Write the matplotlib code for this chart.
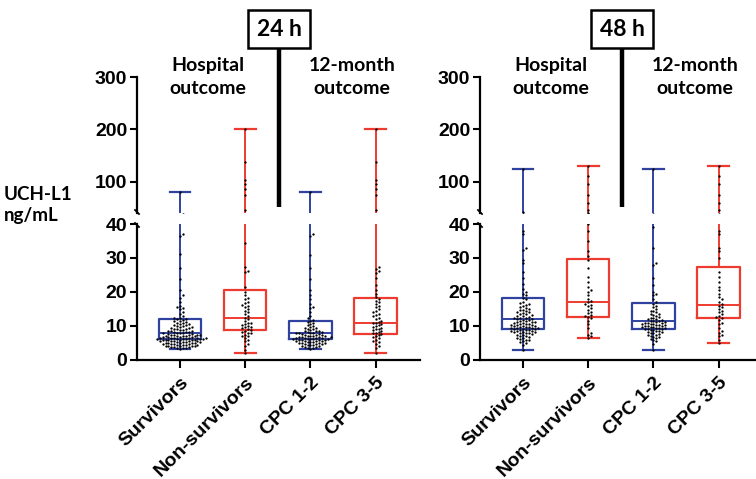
import matplotlib
matplotlib.use("Agg")
import matplotlib.pyplot as plt
import numpy as np
from matplotlib.patches import Rectangle
from matplotlib.lines import Line2D

# ---------------- data ----------------
categories = ["Survivors", "Non-survivors", "CPC 1-2", "CPC 3-5"]
panel_titles = ["24 h", "48 h"]

# box summaries (whisker low, Q1, median, Q3, whisker high), ng/mL
lo_24 = [3.3, 2.1, 3.3, 2.1]
q1_24 = [6.3, 8.8, 6.3, 7.6]
med_24 = [7.8, 12.5, 7.8, 10.8]
q3_24 = [12.0, 20.6, 11.6, 18.3]
hi_24 = [79.6, 200.0, 79.6, 200.0]

lo_48 = [2.9, 6.4, 2.9, 4.9]
q1_48 = [9.2, 12.7, 9.1, 12.4]
med_48 = [12.1, 17.0, 11.5, 16.1]
q3_48 = [18.1, 29.7, 16.8, 27.4]
hi_48 = [124.0, 129.0, 124.0, 129.0]

# individual patient values
surv_24 = [3.3, 3.4, 3.5, 3.6, 3.7, 3.8, 3.9, 4.0, 4.0, 4.1, 4.2, 4.2, 4.3, 4.4, 4.5,
           4.5, 4.6, 4.7, 4.8, 4.8, 4.9, 5.0, 5.0, 5.1, 5.1, 5.2, 5.3, 5.3, 5.4, 5.5,
           5.5, 5.6, 5.6, 5.7, 5.8, 5.8, 5.9, 6.0, 6.0, 6.0, 6.1, 6.1, 6.2, 6.2, 6.3,
           6.3, 6.4, 6.4, 6.5, 6.5, 6.6, 6.6, 6.7, 6.8, 6.8, 6.9, 7.0, 7.0, 7.1, 7.1,
           7.2, 7.3, 7.3, 7.4, 7.5, 7.5, 7.6, 7.7, 7.8, 7.8, 7.9, 8.0, 8.1, 8.2, 8.3,
           8.4, 8.5, 8.6, 8.8, 8.9, 9.0, 9.1, 9.2, 9.4, 9.5, 9.6, 9.8, 9.9, 10.0, 10.2,
           10.3, 10.5, 10.7, 10.8, 11.0, 11.2, 11.4, 11.6, 11.8, 12.0, 12.1, 12.3,
           12.5, 13.0, 13.5, 14.2, 15.0, 15.3, 15.5, 16.0, 17.0, 18.2, 19.0, 20.5,
           23.8, 27.0, 31.2, 36.6, 37.2, 79.6]
nonsurv_24 = [2.1, 3.0, 4.2, 4.8, 5.5, 6.0, 6.5, 7.0, 7.2, 7.5, 7.8, 8.0, 8.3, 8.6, 8.8,
              9.0, 9.3, 9.6, 9.8, 10.0, 10.2, 10.5, 10.8, 11.0, 11.5, 12.0, 12.5, 13.0,
              13.5, 14.0, 14.5, 15.0, 15.5, 16.0, 16.2, 16.8, 17.2, 17.8, 18.3, 19.0,
              20.0, 21.5, 25.8, 26.2, 27.4, 34.3, 45.0, 75.0, 85.0, 95.0, 103.0, 137.0,
              200.0]
cpc12_24 = [3.3, 3.4, 3.6, 3.8, 3.9, 4.0, 4.1, 4.3, 4.4, 4.5, 4.6, 4.7, 4.8, 4.9, 5.0,
            5.0, 5.1, 5.2, 5.3, 5.4, 5.5, 5.5, 5.6, 5.7, 5.8, 5.9, 6.0, 6.0, 6.1, 6.1,
            6.2, 6.3, 6.3, 6.4, 6.5, 6.5, 6.6, 6.7, 6.8, 6.8, 6.9, 7.0, 7.0, 7.1, 7.2,
            7.3, 7.4, 7.5, 7.6, 7.7, 7.8, 7.8, 7.9, 8.0, 8.1, 8.2, 8.4, 8.5, 8.6, 8.8,
            9.0, 9.2, 9.4, 9.5, 9.7, 10.0, 10.3, 10.6, 10.9, 11.2, 11.5, 11.8, 12.3,
            13.0, 14.0, 15.2, 15.5, 16.5, 18.0, 19.0, 20.5, 23.8, 27.0, 31.0, 36.5,
            37.0, 79.6]
cpc35_24 = [2.1, 3.5, 4.2, 4.8, 5.2, 5.6, 6.0, 6.4, 6.8, 7.0, 7.3, 7.6, 7.8, 8.0, 8.2,
            8.5, 8.8, 9.0, 9.2, 9.5, 9.8, 10.0, 10.3, 10.6, 10.8, 11.0, 11.3, 11.6,
            12.0, 12.4, 12.8, 13.2, 13.6, 14.0, 14.5, 15.0, 15.5, 16.0, 16.5, 17.0,
            17.5, 18.0, 18.5, 19.5, 20.5, 22.0, 24.0, 25.5, 26.2, 26.8, 27.4, 45.0,
            75.0, 85.0, 95.0, 103.0, 137.0, 200.0]

surv_48 = [2.9, 4.5, 5.0, 5.2, 5.5, 5.8, 6.0, 6.2, 6.4, 6.6, 6.8, 7.0, 7.1, 7.3, 7.5,
           7.6, 7.8, 7.9, 8.0, 8.1, 8.2, 8.3, 8.4, 8.5, 8.6, 8.7, 8.8, 8.9, 9.0, 9.1,
           9.2, 9.3, 9.3, 9.4, 9.5, 9.6, 9.7, 9.8, 9.9, 10.0, 10.1, 10.2, 10.3, 10.4,
           10.5, 10.6, 10.7, 10.8, 11.0, 11.1, 11.2, 11.3, 11.5, 11.6, 11.7, 11.9,
           12.0, 12.1, 12.3, 12.4, 12.5, 12.7, 12.9, 13.0, 13.2, 13.4, 13.5, 13.8,
           14.0, 14.2, 14.3, 14.6, 14.8, 15.0, 15.3, 15.6, 16.0, 16.2, 16.4, 16.8,
           17.2, 17.8, 18.3, 19.0, 19.5, 20.0, 21.0, 22.5, 24.0, 26.0, 28.5, 29.5,
           32.5, 33.0, 37.0, 38.0, 42.0, 124.0]
nonsurv_48 = [6.4, 7.0, 7.5, 8.0, 9.5, 10.5, 11.5, 12.3, 12.7, 13.0, 13.3, 13.8, 14.2,
              14.8, 15.3, 15.8, 16.2, 16.6, 17.0, 17.5, 18.0, 19.0, 20.0, 20.5, 21.5,
              23.0, 24.5, 27.0, 29.5, 30.5, 32.0, 35.0, 38.0, 40.0, 45.0, 60.0, 75.0,
              95.0, 110.0, 129.0]
cpc12_48 = [2.9, 4.8, 5.6, 6.0, 6.2, 6.5, 6.7, 6.9, 7.1, 7.3, 7.5, 7.7, 7.8, 8.0, 8.1,
            8.3, 8.4, 8.6, 8.7, 8.9, 9.0, 9.1, 9.2, 9.3, 9.4, 9.5, 9.6, 9.7, 9.8, 9.9,
            10.0, 10.1, 10.2, 10.3, 10.4, 10.5, 10.6, 10.7, 10.8, 10.9, 11.0, 11.1,
            11.2, 11.4, 11.5, 11.6, 11.8, 12.0, 12.2, 12.3, 12.5, 12.6, 12.9, 13.2,
            13.4, 13.6, 14.0, 14.3, 14.5, 15.0, 15.5, 16.0, 16.6, 17.2, 18.0, 19.0,
            19.5, 20.0, 22.0, 24.0, 28.0, 28.5, 33.0, 39.0, 124.0]
cpc35_48 = [4.9, 6.0, 7.0, 7.5, 8.0, 8.5, 9.5, 10.5, 11.0, 11.8, 12.3, 12.6, 13.0,
            13.5, 14.0, 14.5, 15.0, 15.5, 16.0, 16.5, 17.0, 17.8, 18.5, 19.5, 20.5,
            21.5, 23.0, 24.5, 26.0, 30.0, 32.0, 33.0, 37.0, 38.0, 45.0, 60.0, 75.0,
            95.0, 110.0, 129.0]

panels = [
    dict(title="24 h", lo=lo_24, q1=q1_24, med=med_24, q3=q3_24, hi=hi_24,
         pts=[surv_24, nonsurv_24, cpc12_24, cpc35_24]),
    dict(title="48 h", lo=lo_48, q1=q1_48, med=med_48, q3=q3_48, hi=hi_48,
         pts=[surv_48, nonsurv_48, cpc12_48, cpc35_48]),
]

BLUE = "#2F42A0"
RED = "#EE3B30"
colors = [BLUE, RED, BLUE, RED]

W, H = 756, 479
fig = plt.figure(figsize=(W / 100, H / 100), dpi=100)
plt.rcParams["font.family"] = ["Liberation Sans", "DejaVu Sans"]


def fx(px):
    return px / W


def fy(py):
    return 1 - py / H


TEXT_FONT = "Lato"

XL = (-0.66, 3.68)
axes_left = [137, 480]
ax_w = 283
low_top, low_bot = 224, 360
up_top, up_bot = 77, 213
px_per_x = ax_w / (XL[1] - XL[0])


def swarm_offsets(vals):
    """Deterministic beeswarm offsets (in data x units)."""
    vals = np.asarray(vals, dtype=float)
    ypix = np.where(vals <= 40, (vals / 40.0) * (low_bot - low_top),
                    (low_bot - low_top) + 11 + (vals - 40) / 260.0 * (up_bot - up_top))
    order = np.argsort(ypix)
    placed = []
    offs = np.zeros(len(vals))
    step = 2.9
    for i in order:
        y = ypix[i]
        for k in range(0, 60):
            cand = ((k + 1) // 2) * step * (1 if k % 2 else -1) if k else 0.0
            ok = True
            for (px, py) in placed:
                if (px - cand) ** 2 + (py - y) ** 2 < step ** 2 * 0.9:
                    ok = False
                    break
            if ok:
                break
        placed.append((cand, y))
        offs[i] = cand / px_per_x
    return offs


def draw_boxes(ax, p):
    for i in range(4):
        c = colors[i]
        st = dict(whislo=p["lo"][i], q1=p["q1"][i], med=p["med"][i],
                  q3=p["q3"][i], whishi=p["hi"][i], fliers=[])
        ax.bxp([st], positions=[i], widths=0.65, showfliers=False,
               patch_artist=False,
               boxprops=dict(color=c, linewidth=1.6),
               medianprops=dict(color=c, linewidth=1.4),
               whiskerprops=dict(color=c, linewidth=1.4),
               capprops=dict(color=c, linewidth=1.6),
               capwidths=0.32, zorder=2)
    for i in range(4):
        v = np.array(p["pts"][i])
        ax.scatter(i + swarm_offsets(v), v, s=2.8, color="black", linewidths=0,
                   zorder=3)


for pi, p in enumerate(panels):
    x0 = axes_left[pi]
    ax_lo = fig.add_axes([fx(x0), fy(low_bot), ax_w / W, (low_bot - low_top) / H])
    ax_up = fig.add_axes([fx(x0), fy(up_bot), ax_w / W, (up_bot - up_top) / H])
    for ax in (ax_lo, ax_up):
        draw_boxes(ax, p)
        ax.set_xlim(*XL)
        ax.patch.set_alpha(0)
        for s in ("top", "right"):
            ax.spines[s].set_visible(False)
        ax.spines["left"].set_linewidth(1.6)
        ax.tick_params(axis="y", width=1.5, length=5, labelsize=14, pad=2)
    ax_lo.set_ylim(0, 40)
    ax_lo.set_yticks([0, 10, 20, 30, 40])
    ax_lo.set_yticklabels(["0", "10", "20", "30", "40"], fontweight="bold", fontsize=14)
    ax_lo.spines["bottom"].set_linewidth(1.6)
    ax_lo.set_xticks(range(4))
    ax_lo.set_xticklabels(categories, rotation=45, ha="right", rotation_mode="anchor",
                          fontweight="bold", fontsize=14)
    ax_lo.tick_params(axis="x", width=1.5, length=6, pad=4)
    ax_up.set_ylim(40, 300)
    ax_up.set_yticks([100, 200, 300])
    ax_up.set_yticklabels(["100", "200", "300"], fontweight="bold", fontsize=14)
    ax_up.spines["bottom"].set_visible(False)
    ax_up.set_xticks([])

    # axis break squiggle
    fig.add_artist(Line2D([fx(x0 - 2), fx(x0 + 2)], [fy(up_bot - 3), fy(up_bot + 1)],
                          color="black", lw=1.3))
    fig.add_artist(Line2D([fx(x0 - 2), fx(x0 + 2)], [fy(low_top - 1), fy(low_top + 3)],
                          color="black", lw=1.3))

    # time-point box and divider
    cx = x0 + 142
    fig.add_artist(Rectangle((fx(cx - 31), fy(48)), 62 / W, 38 / H,
                             facecolor="white", edgecolor="black", lw=1.8))
    fig.text(fx(cx), fy(29), p["title"], ha="center", va="center",
             fontsize=16.5, fontweight="bold", family=TEXT_FONT)
    fig.add_artist(Line2D([fx(cx), fx(cx)], [fy(48), fy(207)], color="black",
                          lw=3.2, solid_capstyle="butt"))

    # group headings
    fig.text(fx(x0 + 71), fy(77), "Hospital\noutcome", ha="center", va="center",
             fontsize=14, fontweight="bold", family=TEXT_FONT, linespacing=1.4)
    fig.text(fx(x0 + 215), fy(77), "12-month\noutcome", ha="center", va="center",
             fontsize=14, fontweight="bold", family=TEXT_FONT, linespacing=1.4)

fig.text(fx(4), fy(205), "UCH-L1\nng/mL", ha="left", va="center", fontsize=13.5,
         fontweight="bold", family=TEXT_FONT, linespacing=1.35)

fig.savefig("out.png", dpi=100)
